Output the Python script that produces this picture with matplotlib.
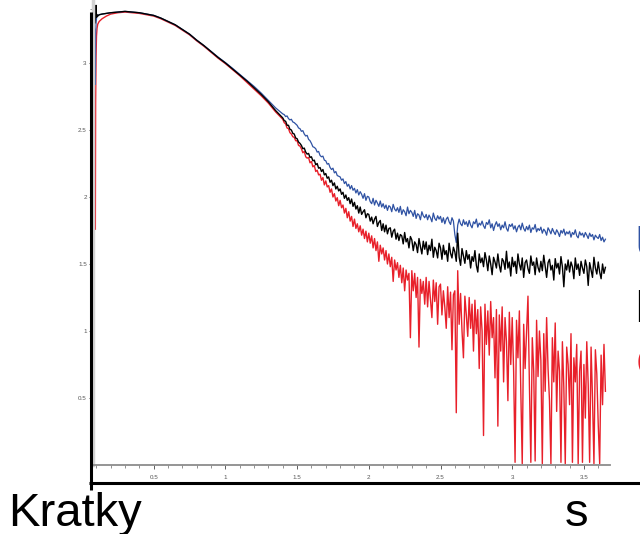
"""
Kratky plot (s vs I*s^2) of three SAXS curves, redrawn from a slide screenshot.
"""

import matplotlib

matplotlib.use("Agg")
import matplotlib.pyplot as plt
import numpy as np
from matplotlib.lines import Line2D

COLOR_BLUE = "#2f52a3"
COLOR_BLACK = "#000000"
COLOR_RED = "#e8202a"
COLOR_AXIS_GREY = "#8c8c8c"
COLOR_BAND_GREY = "#d2d2d2"
COLOR_TICK_TEXT = "#555555"

# --- data ----------------------------------------------------------------
# rising edge at the start, one list per curve
BLACK_HEAD_S = [0.091, 0.095, 0.098, 0.101, 0.105, 0.11, 0.12, 0.14, 0.17, 0.20, 0.25]
BLACK_HEAD_I = [3.30, 3.36, 3.43, 3.34, 3.36, 3.35, 3.36, 3.365, 3.37, 3.375, 3.38]
BLUE_HEAD_S = [0.090, 0.093, 0.095, 0.098, 0.102, 0.11, 0.12, 0.14, 0.17, 0.20, 0.25]
BLUE_HEAD_I = [3.25, 2.84, 3.22, 3.30, 3.34, 3.355, 3.36, 3.365, 3.37, 3.375, 3.38]
RED_HEAD_S = [0.093, 0.095, 0.098, 0.101, 0.105, 0.11, 0.12, 0.14, 0.17, 0.20, 0.25]
RED_HEAD_I = [1.76, 2.70, 3.05, 3.20, 3.26, 3.29, 3.31, 3.33, 3.35, 3.365, 3.375]

# smooth part, shared s values
MID_S = [0.30, 0.35, 0.40, 0.45, 0.50, 0.55, 0.60, 0.65, 0.70, 0.75, 0.80,
         0.85, 0.90, 0.95, 1.00, 1.05, 1.10, 1.15, 1.20, 1.25, 1.30, 1.35]
BLACK_MID_I = [3.385, 3.38, 3.375, 3.365, 3.355, 3.335, 3.31, 3.285, 3.25, 3.215, 3.17,
               3.13, 3.085, 3.04, 3.00, 2.955, 2.91, 2.865, 2.815, 2.765, 2.71, 2.645]
BLUE_MID_I = [3.385, 3.38, 3.375, 3.365, 3.355, 3.335, 3.31, 3.285, 3.25, 3.215, 3.17,
              3.13, 3.087, 3.043, 3.003, 2.96, 2.915, 2.87, 2.825, 2.775, 2.72, 2.665]
RED_MID_I = [3.38, 3.375, 3.37, 3.36, 3.35, 3.33, 3.305, 3.28, 3.245, 3.21, 3.165,
             3.125, 3.08, 3.035, 2.995, 2.95, 2.905, 2.855, 2.805, 2.755, 2.70, 2.635]

# noisy tail, sampled every 0.01 from s = 1.40 to 3.65
TAIL_S = np.round(1.40 + 0.01 * np.arange(226), 2)
BLUE_TAIL_I = [
    2.62, 2.615, 2.60, 2.605, 2.585, 2.575, 2.58, 2.56, 2.555, 2.545,
    2.535, 2.515, 2.51, 2.49, 2.495, 2.47, 2.455, 2.46, 2.43, 2.42,
    2.40, 2.375, 2.37, 2.36, 2.335, 2.34, 2.31, 2.30, 2.305, 2.275,
    2.27, 2.245, 2.25, 2.22, 2.205, 2.215, 2.18, 2.19, 2.16, 2.155,
    2.15, 2.125, 2.135, 2.10, 2.115, 2.08, 2.095, 2.06, 2.085, 2.05,
    2.065, 2.03, 2.055, 2.015, 2.04, 2.02, 1.99, 2.025, 1.975, 2.005,
    2.00, 1.965, 1.95, 1.99, 1.94, 1.975, 1.955, 1.93, 1.97, 1.925,
    1.95, 1.915, 1.94, 1.90, 1.935, 1.925, 1.89, 1.945, 1.91, 1.895,
    1.92, 1.885, 1.93, 1.87, 1.905, 1.89, 1.86, 1.925, 1.875, 1.90,
    1.885, 1.855, 1.90, 1.84, 1.875, 1.865, 1.83, 1.89, 1.86, 1.845,
    1.87, 1.83, 1.865, 1.845, 1.815, 1.88, 1.84, 1.825, 1.86, 1.835,
    1.855, 1.81, 1.845, 1.80, 1.835, 1.85, 1.815, 1.795, 1.845, 1.82,
    1.72, 1.66, 1.79, 1.835, 1.80, 1.785, 1.83, 1.795, 1.815, 1.78,
    1.825, 1.79, 1.77, 1.815, 1.80, 1.835, 1.775, 1.805, 1.79, 1.82,
    1.785, 1.765, 1.81, 1.795, 1.83, 1.77, 1.80, 1.75, 1.79, 1.815,
    1.78, 1.80, 1.755, 1.79, 1.77, 1.815, 1.765, 1.745, 1.795, 1.78,
    1.80, 1.76, 1.785, 1.74, 1.775, 1.79, 1.755, 1.805, 1.765, 1.745,
    1.78, 1.755, 1.79, 1.735, 1.77, 1.76, 1.795, 1.74, 1.765, 1.75,
    1.775, 1.73, 1.76, 1.745, 1.715, 1.77, 1.75, 1.725, 1.765, 1.74,
    1.72, 1.755, 1.735, 1.705, 1.75, 1.73, 1.76, 1.715, 1.74, 1.725,
    1.745, 1.70, 1.735, 1.72, 1.755, 1.71, 1.695, 1.74, 1.715, 1.73,
    1.70, 1.735, 1.715, 1.69, 1.73, 1.705, 1.72, 1.68, 1.715, 1.70,
    1.69, 1.72, 1.675, 1.70, 1.665, 1.685,
]
BLACK_TAIL_I = [
    2.59, 2.57, 2.565, 2.535, 2.535, 2.505, 2.50, 2.475, 2.47, 2.44,
    2.435, 2.41, 2.40, 2.385, 2.36, 2.365, 2.335, 2.32, 2.325, 2.295,
    2.30, 2.27, 2.275, 2.24, 2.25, 2.215, 2.22, 2.19, 2.205, 2.165,
    2.175, 2.14, 2.15, 2.11, 2.125, 2.085, 2.105, 2.06, 2.08, 2.045,
    2.06, 2.02, 2.035, 1.99, 2.015, 1.975, 1.995, 1.95, 1.985, 1.93,
    1.96, 1.91, 1.935, 1.88, 1.925, 1.87, 1.89, 1.905, 1.845, 1.875,
    1.87, 1.82, 1.85, 1.80, 1.835, 1.855, 1.78, 1.81, 1.825, 1.75,
    1.80, 1.74, 1.79, 1.725, 1.765, 1.77, 1.70, 1.745, 1.76, 1.685,
    1.73, 1.675, 1.72, 1.71, 1.65, 1.735, 1.665, 1.69, 1.62, 1.705,
    1.68, 1.60, 1.665, 1.645, 1.585, 1.69, 1.63, 1.575, 1.67, 1.61,
    1.665, 1.57, 1.64, 1.60, 1.685, 1.55, 1.625, 1.60, 1.545, 1.655,
    1.62, 1.535, 1.64, 1.57, 1.60, 1.52, 1.655, 1.58, 1.545, 1.625,
    1.59, 1.52, 1.73, 1.55, 1.49, 1.615, 1.56, 1.505, 1.60, 1.535,
    1.57, 1.47, 1.555, 1.52, 1.60, 1.49, 1.44, 1.575, 1.51, 1.545,
    1.48, 1.585, 1.53, 1.45, 1.56, 1.50, 1.42, 1.55, 1.515, 1.47,
    1.575, 1.49, 1.44, 1.54, 1.52, 1.46, 1.595, 1.47, 1.515, 1.41,
    1.55, 1.48, 1.52, 1.43, 1.575, 1.50, 1.455, 1.545, 1.40, 1.51,
    1.53, 1.465, 1.43, 1.56, 1.49, 1.515, 1.42, 1.545, 1.475, 1.44,
    1.52, 1.45, 1.565, 1.48, 1.40, 1.51, 1.535, 1.455, 1.49, 1.38,
    1.54, 1.47, 1.505, 1.425, 1.555, 1.48, 1.33, 1.50, 1.455, 1.53,
    1.44, 1.515, 1.48, 1.39, 1.545, 1.46, 1.50, 1.415, 1.52, 1.47,
    1.43, 1.53, 1.48, 1.34, 1.51, 1.455, 1.40, 1.55, 1.47, 1.425,
    1.515, 1.44, 1.39, 1.50, 1.43, 1.475,
]
RED_TAIL_I = [
    2.58, 2.555, 2.545, 2.515, 2.51, 2.48, 2.47, 2.45, 2.445, 2.42,
    2.42, 2.385, 2.38, 2.36, 2.33, 2.34, 2.30, 2.29, 2.295, 2.255,
    2.265, 2.225, 2.235, 2.19, 2.20, 2.165, 2.17, 2.125, 2.145, 2.09,
    2.12, 2.075, 2.085, 2.035, 2.06, 2.00, 2.025, 1.97, 1.995, 1.935,
    1.975, 1.92, 1.94, 1.88, 1.915, 1.845, 1.89, 1.82, 1.855, 1.78,
    1.835, 1.765, 1.80, 1.74, 1.785, 1.715, 1.76, 1.69, 1.745, 1.665,
    1.73, 1.655, 1.71, 1.62, 1.69, 1.60, 1.665, 1.52, 1.64, 1.575,
    1.62, 1.53, 1.60, 1.50, 1.575, 1.48, 1.55, 1.37, 1.53, 1.455,
    1.51, 1.40, 1.49, 1.36, 1.47, 1.30, 1.455, 1.38, 1.43, 0.95,
    1.45, 1.30, 1.43, 1.25, 1.40, 0.88, 1.385, 1.28, 1.37, 1.20,
    1.40, 1.18, 1.37, 1.24, 1.10, 1.38, 1.22, 1.36, 1.05, 1.33,
    1.35, 1.12, 1.30, 1.18, 1.02, 1.33, 1.10, 1.29, 0.86, 1.27,
    1.30, 0.39, 1.45, 1.05, 1.28, 1.00, 0.80, 1.26, 1.12, 0.96,
    1.25, 1.02, 1.20, 0.85, 1.23, 0.98, 1.16, 0.72, 1.18, 1.00,
    0.22, 1.20, 0.90, 1.15, 0.82, 1.22, 0.95, 1.10, 0.65, 1.16,
    0.29, 1.12, 0.85, 1.18, 0.62, 1.10, 0.92, 0.48, 1.14, 0.75,
    1.10, 0.70, 0.02, 1.08, 0.80, 1.15, 0.55, 0.01, 1.05, 0.72,
    0.98, 1.26, 0.60, 0.02, 0.95, 0.70, 0.03, 1.08, 0.66, 1.00,
    0.78, 0.01, 0.98, 0.55, 1.10, 0.72, 0.48, 0.01, 0.95, 0.62,
    1.06, 0.40, 0.85, 0.70, 0.02, 0.92, 0.58, 0.01, 0.88, 0.75,
    0.45, 0.98, 0.02, 0.80, 0.62, 0.90, 0.01, 0.70, 0.85, 0.02,
    0.75, 0.35, 0.92, 0.60, 0.02, 0.88, 0.50, 0.01, 0.86, 0.68,
    0.30, 0.01, 0.82, 0.45, 0.90, 0.55,
]

X_TICKS = [0.5, 1.0, 1.5, 2.0, 2.5, 3.0, 3.5]
X_TICK_LABELS = ["0.5", "1", "1.5", "2", "2.5", "3", "3.5"]
Y_TICKS = [0.5, 1.0, 1.5, 2.0, 2.5, 3.0]
Y_TICK_LABELS = ["0.5", "1", "1.5", "2", "2.5", "3"]


def series(head_s, head_i, mid_i, tail_i):
    s = np.concatenate([head_s, MID_S, TAIL_S])
    i = np.concatenate([head_i, mid_i, tail_i])
    return s, i


def main():
    plt.rcParams["font.family"] = ["Liberation Sans", "DejaVu Sans"]

    W, H = 640, 534
    fig = plt.figure(figsize=(W / 100, H / 100), dpi=100)
    fig.patch.set_facecolor("white")

    # inner plot frame: left 93px, right 610px, top 0px, baseline at 465px
    ax = fig.add_axes([93 / W, (H - 465) / H, 517 / W, 465 / H])
    ax.set_xlim(0.0767, 3.682)
    ax.set_ylim(0, 3.47)

    s, i = series(RED_HEAD_S, RED_HEAD_I, RED_MID_I, RED_TAIL_I)
    ax.plot(s, i, color=COLOR_RED, lw=1.0)
    s, i = series(BLUE_HEAD_S, BLUE_HEAD_I, BLUE_MID_I, BLUE_TAIL_I)
    ax.plot(s, i, color=COLOR_BLUE, lw=0.9)
    s, i = series(BLACK_HEAD_S, BLACK_HEAD_I, BLACK_MID_I, BLACK_TAIL_I)
    ax.plot(s, i, color=COLOR_BLACK, lw=1.0)

    ax.spines["top"].set_visible(False)
    ax.spines["right"].set_visible(False)
    ax.spines["bottom"].set_color(COLOR_AXIS_GREY)
    ax.spines["bottom"].set_linewidth(1.3)
    ax.spines["left"].set_color(COLOR_BAND_GREY)
    ax.spines["left"].set_linewidth(2.5)

    ax.set_xticks(X_TICKS)
    ax.set_xticklabels(X_TICK_LABELS)
    ax.set_xticks(np.round(np.arange(0.1, 3.65, 0.1), 2), minor=True)
    ax.set_yticks(Y_TICKS)
    ax.set_yticklabels(Y_TICK_LABELS)
    ax.set_yticks(np.round(np.arange(0.1, 3.45, 0.1), 2), minor=True)
    ax.tick_params(axis="both", which="major", length=3, width=0.6, colors="#444444",
                   labelsize=4.5, labelcolor=COLOR_TICK_TEXT)
    ax.tick_params(axis="both", which="minor", length=2, width=0.5, colors="#666666")
    ax.tick_params(axis="x", which="major", pad=4.5)
    ax.tick_params(axis="y", which="major", pad=1.5)

    # slide axes drawn over the plot
    fig.add_artist(Line2D([90.5 / W, 90.5 / W], [1 - 12 / H, 1 - 490 / H],
                          color="black", lw=2.2, solid_capstyle="butt"))
    fig.add_artist(Line2D([89 / W, 1.0], [1 - 483 / H, 1 - 483 / H],
                          color="black", lw=2.2, solid_capstyle="butt"))

    fig.text(8 / W, 1 - 526 / H, "Kratky", fontsize=34, va="baseline", ha="left")
    fig.text(565 / W, 1 - 526 / H, "s", fontsize=34, va="baseline", ha="left")

    # legend words cut off at the right edge of the slide
    fig.text(634.5 / W, 1 - 258 / H, "U", fontsize=34, color=COLOR_BLUE, va="baseline", ha="left")
    fig.text(634.5 / W, 1 - 322 / H, "N", fontsize=34, color=COLOR_BLACK, va="baseline", ha="left")
    fig.text(635.5 / W, 1 - 378 / H, "C", fontsize=34, color=COLOR_RED, va="baseline", ha="left")

    fig.savefig("out.png", dpi=100, facecolor="white")
    plt.close(fig)


if __name__ == "__main__":
    main()
